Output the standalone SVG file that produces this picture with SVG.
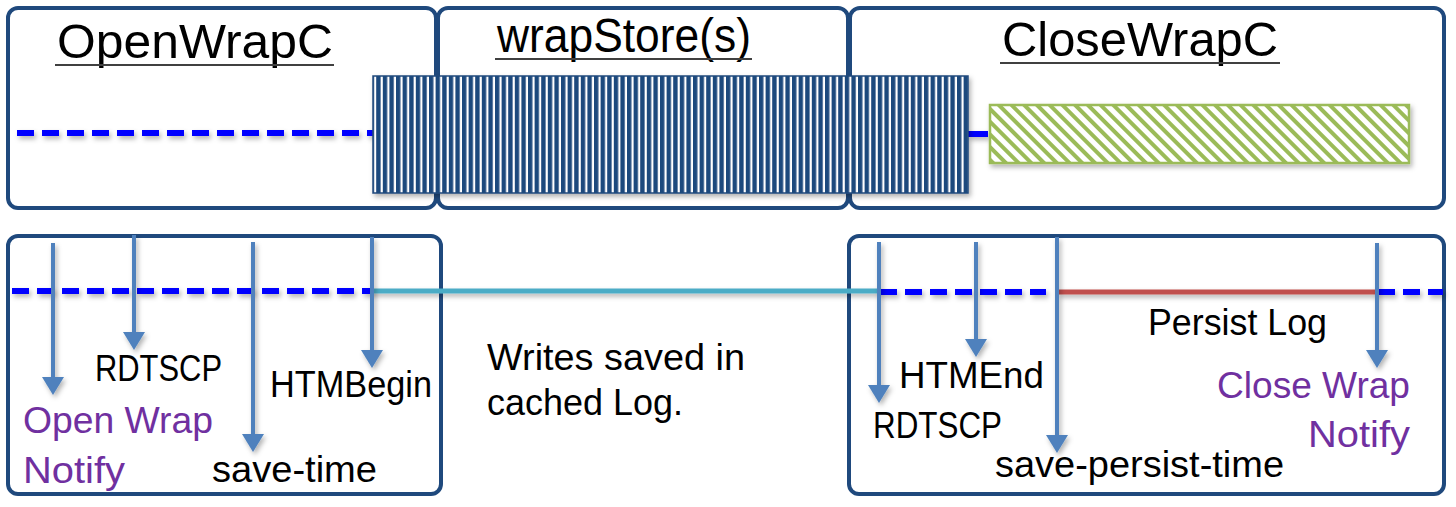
<svg xmlns="http://www.w3.org/2000/svg" width="1456" height="507" viewBox="0 0 1456 507">
<style>
.box{fill:#fff;stroke:#1F497D;stroke-width:4}
.title{font-family:"Liberation Sans",Arial,sans-serif;font-size:49px;fill:#000}
.uline{stroke:#404040;stroke-width:2}
.lbl{font-family:"Liberation Sans",Arial,sans-serif;font-size:36px;fill:#000}
.pur{fill:#7030A0}
.arrow{stroke:#4F81BD;stroke-width:4;fill:none;marker-end:url(#ah)}
.dash{stroke:#0000FF;stroke-width:6;stroke-dasharray:17 8;fill:none}
</style>
<defs>
<pattern id="vstripe" patternUnits="userSpaceOnUse" width="6.6" height="10">
<rect x="0" y="0" width="6.6" height="10" fill="#fff"/>
<rect x="0" y="0" width="4.4" height="10" fill="#1F497D"/>
</pattern>
<pattern id="dstripe" patternUnits="userSpaceOnUse" width="9" height="10" patternTransform="rotate(-45)">
<rect x="0" y="0" width="9" height="10" fill="#fff"/>
<rect x="0" y="0" width="4" height="10" fill="#9BBB59"/>
</pattern>
<filter id="sh" x="-5%" y="-20%" width="110%" height="160%">
<feDropShadow dx="2" dy="3" stdDeviation="2.5" flood-color="#000" flood-opacity="0.3"/>
</filter>
<marker id="ah" markerWidth="20" markerHeight="24" refX="9" refY="11" orient="auto" markerUnits="userSpaceOnUse">
<path d="M0,0 L18,11 L0,22 Z" fill="#4F81BD"/>
</marker>
</defs>
<rect width="1456" height="507" fill="#fff"/>

<g id="top-open-wrap">
<rect class="box" x="8" y="8" width="428" height="200" rx="10"/>
<text class="title" x="57" y="58" textLength="276" lengthAdjust="spacingAndGlyphs">OpenWrapC</text>
<line class="uline" x1="55" y1="65" x2="334" y2="65"/>
</g>
<g id="top-wrapstore">
<rect class="box" x="438" y="8" width="410" height="200" rx="10"/>
<text class="title" x="497" y="52" textLength="254" lengthAdjust="spacingAndGlyphs">wrapStore(s)</text>
<line class="uline" x1="495" y1="59" x2="752" y2="59"/>
</g>
<g id="top-close-wrap">
<rect class="box" x="850" y="8" width="594" height="200" rx="10"/>
<text class="title" x="1002" y="56" textLength="276" lengthAdjust="spacingAndGlyphs">CloseWrapC</text>
<line class="uline" x1="1000" y1="63" x2="1280" y2="63"/>
</g>

<g id="bottom-open-wrap">
<rect class="box" x="8" y="236" width="433" height="258" rx="10"/>
</g>
<g id="bottom-close-wrap">
<rect class="box" x="849" y="236" width="595" height="258" rx="10"/>
</g>

<g id="connectors">
<g filter="url(#sh)">
<line class="dash" x1="17" y1="133" x2="373" y2="133"/>
<line x1="968" y1="134" x2="988" y2="134" stroke="#0000FF" stroke-width="6"/>
<line class="dash" x1="12" y1="291" x2="373" y2="291"/>
<line x1="373" y1="291" x2="879" y2="291" stroke="#4BACC6" stroke-width="5"/>
<line class="dash" x1="880" y1="292" x2="1046" y2="292"/>
<line x1="1058" y1="292" x2="1377" y2="292" stroke="#C0504D" stroke-width="5"/>
<line class="dash" x1="1378" y1="292" x2="1443" y2="292"/>
</g>
<g filter="url(#sh)">
<line class="arrow" x1="53" y1="243" x2="53" y2="386"/>
<line class="arrow" x1="134" y1="235" x2="134" y2="341"/>
<line class="arrow" x1="253" y1="242" x2="253" y2="443"/>
<line class="arrow" x1="372" y1="237" x2="372" y2="359"/>
<line class="arrow" x1="879" y1="242" x2="879" y2="394"/>
<line class="arrow" x1="976" y1="242" x2="976" y2="348"/>
<line class="arrow" x1="1057" y1="237" x2="1057" y2="444"/>
<line class="arrow" x1="1377" y1="243" x2="1377" y2="359"/>
</g>
</g>

<g id="store-bar" filter="url(#sh)">
<rect x="373" y="76" width="595" height="117" fill="url(#vstripe)" stroke="#1F497D" stroke-width="1.5"/>
</g>
<g id="persist-bar" filter="url(#sh)">
<rect x="990" y="105" width="419" height="58" fill="url(#dstripe)" stroke="#9BBB59" stroke-width="2.5"/>
</g>

<g id="labels-open">
<text class="lbl" x="95" y="381" textLength="127" lengthAdjust="spacingAndGlyphs">RDTSCP</text>
<text class="lbl" x="270" y="397" textLength="162" lengthAdjust="spacingAndGlyphs">HTMBegin</text>
<text class="lbl pur" x="23" y="433" textLength="190" lengthAdjust="spacingAndGlyphs">Open Wrap</text>
<text class="lbl pur" x="23" y="483" textLength="102" lengthAdjust="spacingAndGlyphs">Notify</text>
<text class="lbl" x="212" y="482" textLength="165" lengthAdjust="spacingAndGlyphs">save-time</text>
</g>
<g id="labels-store">
<text class="lbl" x="487" y="370" textLength="258" lengthAdjust="spacingAndGlyphs">Writes saved in</text>
<text class="lbl" x="487" y="415" textLength="196" lengthAdjust="spacingAndGlyphs">cached Log.</text>
</g>
<g id="labels-close">
<text class="lbl" x="1148" y="335" textLength="179" lengthAdjust="spacingAndGlyphs">Persist Log</text>
<text class="lbl" x="899" y="388" textLength="145" lengthAdjust="spacingAndGlyphs">HTMEnd</text>
<text class="lbl" x="873" y="438" textLength="129" lengthAdjust="spacingAndGlyphs">RDTSCP</text>
<text class="lbl" x="995" y="477" textLength="289" lengthAdjust="spacingAndGlyphs">save-persist-time</text>
<text class="lbl pur" x="1217" y="398" textLength="193" lengthAdjust="spacingAndGlyphs">Close Wrap</text>
<text class="lbl pur" x="1308" y="447" textLength="102" lengthAdjust="spacingAndGlyphs">Notify</text>
</g>
</svg>
